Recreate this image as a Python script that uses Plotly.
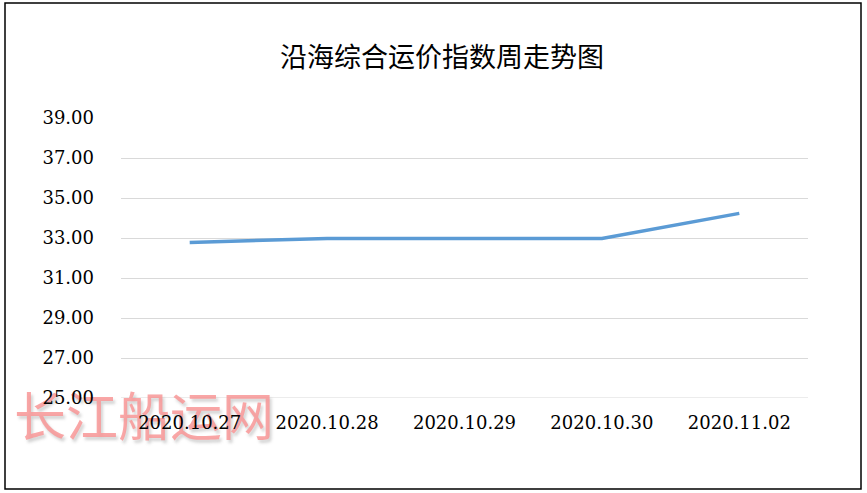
import plotly.graph_objects as go

categories = ["2020.10.27", "2020.10.28", "2020.10.29", "2020.10.30", "2020.11.02"]
values = [32.78, 32.98, 32.98, 32.98, 34.23]
y_ticks = [25, 27, 29, 31, 33, 35, 37, 39]
title_text = "沿海综合运价指数周走势图"
watermark_text = "长江船运网"

W, H = 867, 493
px0, px1 = 121, 808
py_top, py_bot = 118, 398

fig = go.Figure()

# watermark on a full-page helper subplot (drawn first, below the chart's tick labels)
fig.add_trace(go.Scatter(
    x=[144], y=[H - 423], mode="text", text=[watermark_text],
    textfont=dict(size=52, family="Noto Sans CJK SC",
                  color="rgba(248,150,150,0.85)",
                  shadow="2px 3px 3px rgba(110,110,110,0.35)"),
    cliponaxis=False, hoverinfo="skip", showlegend=False,
    xaxis="x", yaxis="y",
))

# main line chart
fig.add_trace(go.Scatter(
    x=categories, y=values, mode="lines",
    line=dict(color="#5B9BD5", width=3.5),
    hoverinfo="skip", showlegend=False,
    xaxis="x2", yaxis="y2",
))

tick_font = dict(size=18, family="DejaVu Serif, Liberation Serif, serif", color="black")

fig.update_layout(
    template="none",
    width=W, height=H,
    margin=dict(l=0, r=0, t=0, b=0, pad=0),
    paper_bgcolor="white", plot_bgcolor="rgba(0,0,0,0)",
    xaxis=dict(domain=[0, 1], range=[0, W], visible=False, fixedrange=True),
    yaxis=dict(domain=[0, 1], range=[0, H], visible=False, fixedrange=True),
    xaxis2=dict(
        domain=[px0 / W, px1 / W],
        anchor="y2",
        type="category",
        range=[-0.5, 4.5],
        automargin=False,
        showgrid=False, zeroline=False, showline=False,
        ticks="", tickfont=tick_font,
        ticklabelstandoff=12,
    ),
    yaxis2=dict(
        domain=[(H - py_bot) / H, (H - py_top) / H],
        anchor="x2",
        range=[25, 39],
        automargin=False,
        tickvals=y_ticks,
        ticktext=[f"{v:.2f}" for v in y_ticks],
        showgrid=True, gridcolor="#D9D9D9", gridwidth=1,
        zeroline=False, showline=False, ticks="",
        tickfont=tick_font,
        ticklabelstandoff=26,
    ),
    shapes=[
        dict(type="rect", xref="paper", yref="paper",
             x0=5 / W, x1=861 / W, y0=1 - 489 / H, y1=1 - 3 / H,
             line=dict(color="black", width=1.5), fillcolor="rgba(0,0,0,0)"),
        dict(type="line", xref="paper", yref="y2",
             x0=px0 / W, x1=px1 / W, y0=25, y1=25,
             line=dict(color="#D9D9D9", width=1), layer="below"),
    ],
    annotations=[
        dict(text=title_text, xref="paper", yref="paper",
             x=442 / W, y=1 - 55 / H, showarrow=False,
             font=dict(size=27, family="Noto Sans CJK SC", color="black"),
             xanchor="center", yanchor="middle"),
    ],
)

fig.write_html(
    "out.html",
    config={"displayModeBar": False, "staticPlot": True},
    post_script="document.body.style.margin='0';document.body.style.padding='0';",
)
